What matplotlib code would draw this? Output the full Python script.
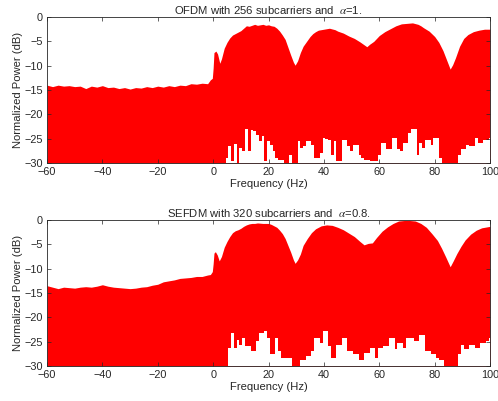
import numpy as np
import matplotlib
matplotlib.use('Agg')
import matplotlib.pyplot as plt

plt.rcParams['font.family'] = ['Liberation Sans', 'DejaVu Sans']
plt.rcParams['mathtext.fontset'] = 'stix'

# ----------------------------------------------------------------------
# DATA
# ----------------------------------------------------------------------
TITLES = ['OFDM with 256 subcarriers and  $\\alpha$=1.',
          'SEFDM with 320 subcarriers and  $\\alpha$=0.8.']

# upper edge of the spectrum, top panel (OFDM)
freq_up_ofdm = [-60, -58, -56, -54, -52, -50, -48, -46, -44, -42, -40, -38, -36,
                -34, -32, -30, -28, -26, -24, -22, -20, -18, -16, -14, -12, -10,
                -8, -6, -4, -2, -1, -0.3, 0, 0.3, 1, 1.6, 2.4, 3, 4, 5, 6, 7, 8,
                9, 10, 11, 12, 13, 14, 15, 16, 17, 18, 19, 20, 21, 22, 23, 24, 25,
                26, 27, 28, 29, 29.6, 30.5, 31.5, 32.5, 34, 35, 36, 37, 38, 40, 42,
                44, 45, 47, 49, 51, 53, 54, 55.5, 56.5, 58, 60, 62, 64, 66, 68, 70,
                72, 74, 75, 76, 78, 80, 81.5, 83, 84.3, 85.6, 86.5, 87.5, 89, 90.5,
                92, 94, 96, 98, 100]
upper_ofdm = [-14.0, -14.3, -14.0, -14.2, -14.1, -14.3, -14.2, -14.7, -14.2, -14.4,
              -14.1, -14.5, -14.4, -14.7, -14.5, -14.8, -14.5, -14.6, -14.3, -14.5,
              -14.2, -14.4, -14.1, -14.3, -14.0, -14.1, -13.7, -13.8, -13.6, -13.7,
              -12.9, -12.6, -10.5, -7.3, -7.0, -7.6, -9.5, -8.6, -6.4, -5.2, -4.3,
              -3.7, -3.4, -3.1, -2.8, -2.3, -1.8, -1.9, -1.7, -1.5, -1.7, -1.6, -1.5,
              -1.7, -1.6, -1.8, -1.9, -2.3, -2.9, -3.7, -4.6, -6.2, -7.8, -9.3, -9.9,
              -9.0, -7.3, -6.0, -4.8, -4.0, -3.4, -3.0, -2.7, -2.5, -2.3, -2.6, -2.9,
              -3.3, -3.9, -4.4, -5.1, -5.5, -6.1, -5.6, -5.0, -3.8, -3.0, -2.4, -1.8,
              -1.4, -1.3, -1.2, -1.5, -1.8, -2.2, -2.9, -4.0, -5.2, -6.9, -8.8, -10.7,
              -9.8, -8.4, -6.0, -4.4, -3.6, -3.0, -2.7, -2.5, -2.5]

# upper edge, bottom panel (SEFDM)
freq_up_sefdm = [-60, -58, -56, -54, -52, -50, -48, -46, -44, -42, -40, -38, -36,
                 -34, -32, -30, -28, -26, -24, -22, -20, -18, -16, -14, -12, -10,
                 -8, -6, -4, -2, -1, -0.3, 0, 0.3, 0.8, 1.5, 2.2, 3, 4, 5, 6, 7, 8,
                 9, 10, 11, 12, 13, 14, 15, 16, 18, 20, 21, 22, 23, 24, 25, 26, 27,
                 28, 29, 29.6, 30.5, 31.5, 32.5, 34, 35.5, 37, 39, 41, 43, 45, 47, 49,
                 51, 53, 54.5, 56, 57.5, 59, 61, 63, 65, 67, 69, 71, 73, 75, 77, 79,
                 81, 82.5, 84, 85.6, 86.7, 88, 89.5, 91, 93, 95, 97, 99, 100]
upper_sefdm = [-13.5, -13.8, -14.1, -13.8, -13.9, -14.0, -13.8, -13.7, -13.8, -13.6,
               -13.3, -13.6, -13.8, -13.9, -14.0, -14.1, -14.0, -13.8, -13.7, -13.4,
               -13.2, -12.7, -12.5, -12.3, -12.0, -11.9, -11.8, -11.6, -11.6, -11.3,
               -11.2, -10.6, -9.0, -6.8, -6.5, -7.2, -8.4, -7.5, -5.6, -4.4, -3.4,
               -2.6, -2.2, -2.0, -1.7, -1.3, -1.0, -0.8, -0.7, -0.7, -0.6, -0.7, -0.7,
               -0.9, -1.2, -1.5, -2.1, -2.8, -3.8, -5.2, -6.6, -8.2, -8.9, -8.2, -7.0,
               -5.2, -3.8, -2.6, -1.8, -1.2, -1.0, -1.1, -1.5, -2.0, -2.7, -3.4, -4.4,
               -5.1, -4.8, -4.7, -3.6, -2.3, -1.4, -0.7, -0.2, -0.1, -0.1, -0.2, -0.7,
               -1.5, -2.8, -4.2, -5.8, -7.6, -9.6, -8.4, -6.9, -5.4, -4.1, -2.9, -2.1,
               -1.6, -1.4, -1.3]

# lower edge of the spectrum from 0 to 100 Hz, one value per Hz
freq_low = list(range(0, 101))
lower_ofdm = [-30, -30, -30, -30, -30, -29.0, -26.5, -29.5, -26.0, -30, -27.0,
              -27.6, -23.0, -27.6, -23.2, -23.5, -24.2, -25.5, -24.5, -29.5, -25.5,
              -26.2, -27.6, -29.0, -29.3, -29.3, -30, -30, -28.3, -30, -30, -25.5,
              -27.0, -26.6, -25.5, -25.5, -26.2, -29.0, -29.0, -28.0, -24.8, -25.0,
              -25.2, -28.3, -25.5, -29.6, -29.6, -25.2, -25.2, -26.6, -27.6, -26.2,
              -26.2, -28.3, -29.0, -29.3, -29.3, -29.6, -29.6, -29.6, -28.3, -25.9,
              -25.9, -27.2, -27.2, -24.8, -24.8, -27.2, -27.6, -25.9, -25.9, -23.8,
              -23.1, -23.1, -28.3, -25.9, -26.9, -25.2, -25.2, -26.2, -24.8, -24.8,
              -29.0, -30, -30, -30, -30, -30, -30, -28.3, -27.2, -27.2, -26.2, -26.6,
              -26.6, -24.8, -25.9, -25.9, -25.2, -25.2, -24.8]
lower_sefdm = [-30, -30, -30, -30, -30, -30, -26.3, -23.2, -26.3, -24.6, -25.6,
               -24.2, -25.9, -25.9, -26.9, -26.9, -24.9, -23.2, -23.2, -22.9, -24.2,
               -27.6, -27.6, -24.2, -26.9, -28.3, -28.3, -28.3, -28.3, -30, -30, -30,
               -28.7, -28.7, -27.9, -27.9, -26.9, -24.2, -24.2, -25.3, -22.9, -22.9,
               -25.9, -28.3, -28.3, -25.6, -25.6, -24.2, -24.2, -26.9, -26.9, -27.6,
               -27.6, -28.7, -28.7, -27.3, -27.3, -26.3, -26.3, -28.3, -26.3, -26.3,
               -25.9, -25.9, -24.2, -24.2, -26.6, -25.3, -25.3, -26.3, -24.2, -24.2,
               -24.2, -24.9, -24.9, -23.6, -23.6, -26.9, -26.9, -27.6, -27.6, -28.3,
               -28.7, -28.7, -30, -30, -30, -30, -30, -27.6, -25.6, -26.6, -26.6,
               -25.6, -25.6, -26.3, -26.3, -25.3, -25.3, -24.9, -24.2]

x_ticks = [-60, -40, -20, 0, 20, 40, 60, 80, 100]
y_ticks = [-30, -25, -20, -15, -10, -5, 0]

panels = [(freq_up_ofdm, upper_ofdm, lower_ofdm),
          (freq_up_sefdm, upper_sefdm, lower_sefdm)]

FS = 7.8
fig = plt.figure(figsize=(4.98, 4.01), dpi=100)
ax_boxes = [[0.0944, 0.5935, 0.8896, 0.364],
            [0.0944, 0.0873, 0.8896, 0.364]]

for box, title, (fu, up, low) in zip(ax_boxes, TITLES, panels):
    ax = fig.add_axes(box)
    ax.fill_between(fu, -30, up, color='#ff0000', linewidth=0)
    # gaps under the spectrum
    ax.fill_between(freq_low, -30, low, step='mid', color='white', linewidth=0)
    ax.set_xlim(-60, 100)
    ax.set_ylim(-30, 0)
    ax.set_xticks(x_ticks)
    ax.set_yticks(y_ticks)
    ax.tick_params(direction='in', top=True, right=True, labelsize=FS,
                   length=3, width=0.5, color='#262626', labelcolor='#262626')
    ax.tick_params(axis='x', pad=3)
    ax.tick_params(axis='y', pad=3)
    for s in ax.spines.values():
        s.set_linewidth(0.6)
        s.set_color('#262626')
    ax.set_title(title, fontsize=FS + 0.3, pad=2, color='#262626')
    ax.set_xlabel('Frequency (Hz)', fontsize=FS + 0.3, labelpad=1,
                  color='#262626')
    ax.set_ylabel('Normalized Power (dB)', fontsize=FS + 0.3, labelpad=1,
                  color='#262626')

fig.savefig('out.png', dpi=100)
